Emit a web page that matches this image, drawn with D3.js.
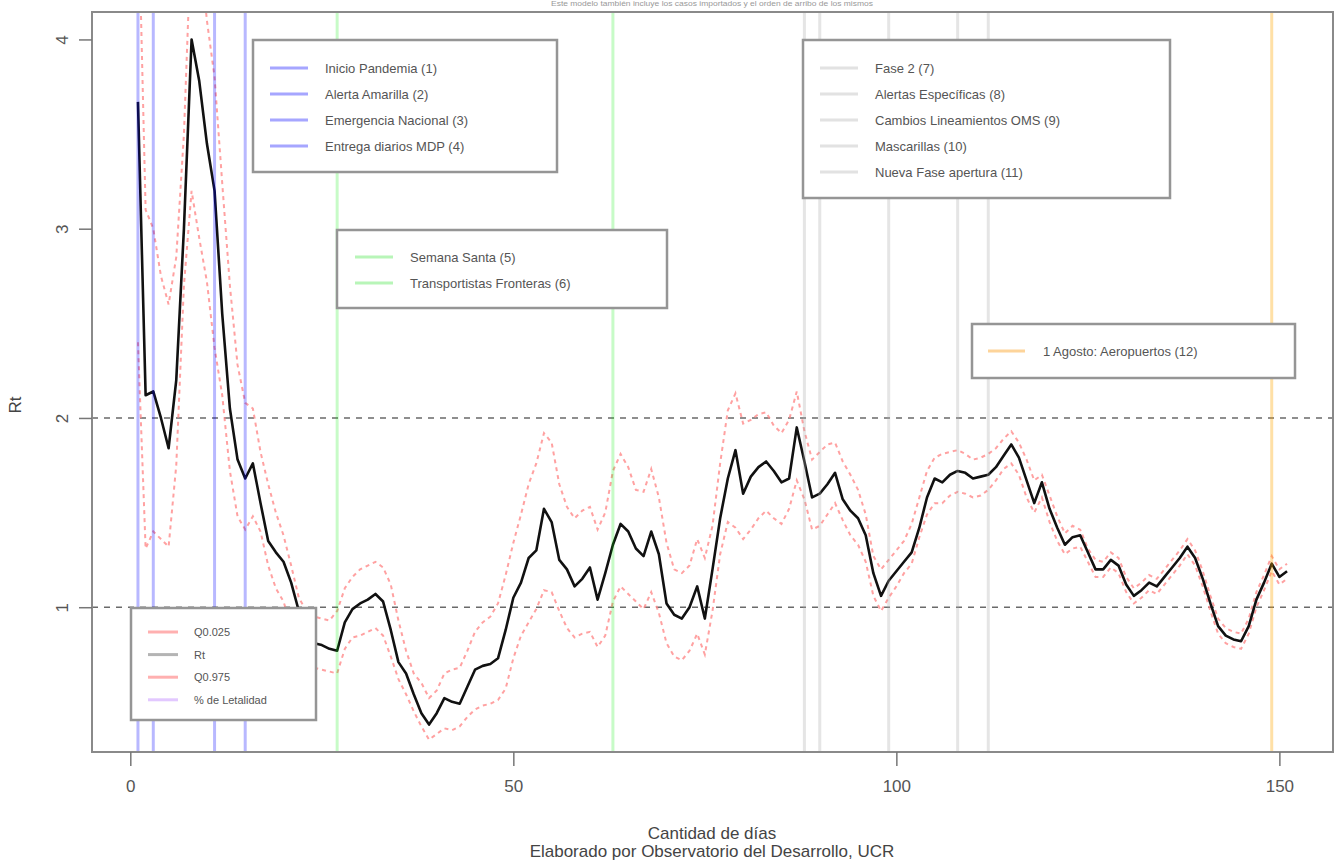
<!DOCTYPE html>
<html>
<head>
<meta charset="utf-8">
<script src="https://cdn.jsdelivr.net/npm/d3@7"></script>
<style>
body { margin: 0; background: #fff; }
text { font-family: "Liberation Sans", Arial, sans-serif; }
</style>
</head>
<body>
<div id="chart"></div>
<script>
// Rt estimado con intervalos

var rt = [3.67, 2.12, 2.14, 2.00, 1.84, 2.20, 3.00, 4.00, 3.78, 3.45,
  3.20, 2.55, 2.05, 1.78, 1.68, 1.76, 1.55, 1.35, 1.29, 1.24,
  1.13, 0.98, 0.85, 0.81, 0.80, 0.78, 0.77, 0.92, 0.99, 1.02,
  1.04, 1.07, 1.03, 0.88, 0.71, 0.65, 0.54, 0.44, 0.38, 0.44,
  0.52, 0.50, 0.49, 0.58, 0.67, 0.69, 0.70, 0.73, 0.88, 1.05,
  1.13, 1.26, 1.30, 1.52, 1.45, 1.25, 1.20, 1.11, 1.15, 1.21,
  1.04, 1.18, 1.33, 1.44, 1.40, 1.31, 1.27, 1.40, 1.28, 1.02,
  0.96, 0.94, 1.00, 1.11, 0.94, 1.20, 1.47, 1.68, 1.83, 1.60,
  1.69, 1.74, 1.77, 1.72, 1.66, 1.68, 1.95, 1.77, 1.58, 1.60,
  1.65, 1.71, 1.57, 1.51, 1.47, 1.38, 1.18, 1.06, 1.14, 1.19,
  1.24, 1.29, 1.42, 1.58, 1.68, 1.66, 1.70, 1.72, 1.71, 1.68,
  1.69, 1.70, 1.74, 1.80, 1.86, 1.79, 1.67, 1.55, 1.66, 1.52,
  1.42, 1.33, 1.37, 1.38, 1.29, 1.20, 1.20, 1.25, 1.22, 1.12,
  1.06, 1.09, 1.13, 1.11, 1.16, 1.21, 1.26, 1.32, 1.26, 1.15,
  1.02, 0.90, 0.85, 0.83, 0.82, 0.90, 1.04, 1.13, 1.23, 1.16,
  1.19];

var q975 = [4.80, 3.10, 3.00, 2.75, 2.60, 2.85, 3.50, 4.60, 4.50, 4.10,
  3.80, 3.24, 2.70, 2.28, 2.08, 2.05, 1.82, 1.65, 1.50, 1.38,
  1.22, 1.05, 0.98, 0.95, 0.94, 0.93, 0.98, 1.10, 1.16, 1.20,
  1.22, 1.24, 1.21, 1.12, 0.93, 0.77, 0.65, 0.60, 0.52, 0.56,
  0.65, 0.67, 0.68, 0.77, 0.87, 0.92, 0.95, 1.02, 1.17, 1.34,
  1.49, 1.65, 1.76, 1.92, 1.87, 1.65, 1.53, 1.47, 1.51, 1.53,
  1.41, 1.50, 1.72, 1.81, 1.74, 1.62, 1.61, 1.73, 1.58, 1.34,
  1.20, 1.18, 1.22, 1.36, 1.26, 1.43, 1.76, 2.04, 2.13, 1.97,
  1.99, 2.02, 2.03, 1.96, 1.92, 1.99, 2.14, 1.93, 1.78, 1.82,
  1.86, 1.87, 1.77, 1.70, 1.62, 1.49, 1.27, 1.20, 1.25, 1.30,
  1.35, 1.44, 1.58, 1.72, 1.79, 1.81, 1.82, 1.83, 1.81, 1.78,
  1.79, 1.81, 1.84, 1.89, 1.93, 1.87, 1.78, 1.67, 1.70, 1.59,
  1.48, 1.39, 1.43, 1.41, 1.31, 1.25, 1.24, 1.29, 1.26, 1.16,
  1.10, 1.13, 1.17, 1.15, 1.20, 1.25, 1.30, 1.36, 1.30, 1.19,
  1.06, 0.94, 0.89, 0.87, 0.86, 0.94, 1.08, 1.17, 1.27, 1.20,
  1.23];

var q025 = [2.40, 1.31, 1.40, 1.36, 1.32, 1.75, 2.70, 3.20, 2.95, 2.72,
  2.37, 2.12, 1.72, 1.48, 1.41, 1.48, 1.40, 1.22, 1.10, 1.03,
  0.90, 0.80, 0.72, 0.68, 0.67, 0.66, 0.65, 0.78, 0.84, 0.85,
  0.87, 0.89, 0.85, 0.74, 0.62, 0.54, 0.45, 0.37, 0.30, 0.33,
  0.36, 0.35, 0.37, 0.42, 0.46, 0.48, 0.49, 0.51, 0.57, 0.73,
  0.85, 0.92, 0.99, 1.09, 1.08, 0.98, 0.89, 0.84, 0.86, 0.87,
  0.79, 0.85, 1.03, 1.11, 1.07, 1.03, 0.99, 1.08, 0.97, 0.81,
  0.74, 0.72, 0.77, 0.86, 0.75, 0.98, 1.28, 1.45, 1.42, 1.36,
  1.41, 1.47, 1.51, 1.47, 1.44, 1.52, 1.67, 1.57, 1.41, 1.43,
  1.49, 1.55, 1.46, 1.38, 1.33, 1.24, 1.06, 0.98, 1.05, 1.11,
  1.18, 1.23, 1.37, 1.49, 1.55, 1.55, 1.59, 1.61, 1.60, 1.58,
  1.59, 1.62, 1.67, 1.73, 1.76, 1.70, 1.58, 1.50, 1.58, 1.45,
  1.35, 1.28, 1.31, 1.32, 1.24, 1.16, 1.16, 1.21, 1.18, 1.08,
  1.02, 1.05, 1.09, 1.07, 1.12, 1.17, 1.22, 1.28, 1.22, 1.11,
  0.98, 0.86, 0.81, 0.79, 0.78, 0.86, 1.00, 1.09, 1.19, 1.12,
  1.15];

var days = d3.range(1, rt.length + 1);

var blueDays = [1, 3, 11, 15];
var greenDays = [27, 63];
var grayDays = [88, 90, 99, 108, 112];
var orangeDays = [149];

var blueLabels = ["Inicio Pandemia (1)", "Alerta Amarilla (2)", "Emergencia Nacional (3)", "Entrega diarios MDP (4)"];
var greenLabels = ["Semana Santa (5)", "Transportistas Fronteras (6)"];
var grayLabels = ["Fase 2 (7)", "Alertas Específicas (8)", "Cambios Lineamientos OMS (9)", "Mascarillas (10)", "Nueva Fase apertura (11)"];
var orangeLabels = ["1 Agosto: Aeropuertos (12)"];
var seriesLabels = ["Q0.025", "Rt", "Q0.975", "% de Letalidad"];

var xTicks = [0, 50, 100, 150];
var yTicks = [1, 2, 3, 4];
var refLines = [1, 2];

var svgWidth = 1334,
  svgHeight = 861;

var box = {left: 92, right: 1333, top: 12, bottom: 752};

var svg = d3.select("#chart")
  .append("svg")
  .attr("width", svgWidth)
  .attr("height", svgHeight);

var xScale = d3.scaleLinear()
  .domain([-5, 157])
  .range([box.left, box.right]);

var yScale = d3.scaleLinear()
  .domain([0.235, 4.145])
  .range([box.bottom, box.top]);

svg.append("defs").append("clipPath")
  .attr("id", "plotclip")
  .append("rect")
  .attr("x", box.left)
  .attr("y", box.top)
  .attr("width", box.right - box.left)
  .attr("height", box.bottom - box.top);

var plot = svg.append("g")
  .attr("clip-path", "url(#plotclip)");

plot.selectAll(".ref")
  .data(refLines)
  .enter()
  .append("line")
  .attr("x1", box.left)
  .attr("x2", box.right)
  .attr("y1", d => yScale(d))
  .attr("y2", d => yScale(d))
  .attr("stroke", "#6a6a6a")
  .attr("stroke-width", 1.6)
  .attr("stroke-dasharray", "6,6");

var line = d3.line()
  .x((d, i) => xScale(days[i]))
  .y(d => yScale(d));

[q025, q975].forEach(function(s) {
  plot.append("path")
    .datum(s)
    .attr("d", line)
    .attr("fill", "none")
    .attr("stroke", "#ff8a8a")
    .attr("stroke-width", 2)
    .attr("stroke-dasharray", "4,4")
    .attr("opacity", 0.8);
});

plot.append("path")
  .datum(rt)
  .attr("d", line)
  .attr("fill", "none")
  .attr("stroke", "#111")
  .attr("stroke-width", 2.6)
  .attr("stroke-linejoin", "round");

var events = [
  [blueDays, "#0000ff", 0.28],
  [greenDays, "#00ee00", 0.22],
  [grayDays, "#a8a8a8", 0.3],
  [orangeDays, "#ffa500", 0.35]
];

events.forEach(function(ev) {
  plot.selectAll(null)
    .data(ev[0])
    .enter()
    .append("line")
    .attr("x1", d => xScale(d))
    .attr("x2", d => xScale(d))
    .attr("y1", box.top)
    .attr("y2", box.bottom)
    .attr("stroke", ev[1])
    .attr("stroke-opacity", ev[2])
    .attr("stroke-width", 3);
});

svg.append("rect")
  .attr("x", box.left)
  .attr("y", box.top)
  .attr("width", box.right - box.left)
  .attr("height", box.bottom - box.top)
  .attr("fill", "none")
  .attr("stroke", "#8a8a8a")
  .attr("stroke-width", 2);

var xAxis = d3.axisBottom(xScale)
  .tickValues(xTicks)
  .tickFormat(d3.format("d"))
  .tickSize(14)
  .tickPadding(14);

var xg = svg.append("g")
  .attr("transform", `translate(0, ${box.bottom})`)
  .call(xAxis);
xg.select(".domain").remove();
xg.selectAll("line").attr("stroke", "#777").attr("stroke-width", 1.5);
xg.selectAll("text")
  .attr("font-size", "17px")
  .attr("font-family", "Liberation Sans, Arial, sans-serif")
  .attr("fill", "#555");

var yAxis = d3.axisLeft(yScale)
  .tickValues(yTicks)
  .tickFormat(d3.format("d"))
  .tickSize(13);

var yg = svg.append("g")
  .attr("transform", `translate(${box.left}, 0)`)
  .call(yAxis);
yg.select(".domain").remove();
yg.selectAll("line").attr("stroke", "#777").attr("stroke-width", 1.5);
yg.selectAll("text")
  .attr("x", 0)
  .attr("y", -24)
  .attr("dy", 0)
  .attr("transform", "rotate(-90)")
  .style("text-anchor", "middle")
  .attr("font-size", "17px")
  .attr("font-family", "Liberation Sans, Arial, sans-serif")
  .attr("fill", "#555");

function legend(x0, y0, w, h, labels, colors, rowY, step, lineX, textX, fontSize) {
  var g = svg.append("g");
  g.append("rect")
    .attr("x", x0)
    .attr("y", y0)
    .attr("width", w)
    .attr("height", h)
    .attr("fill", "#fff")
    .attr("stroke", "#959595")
    .attr("stroke-width", 2.5);
  labels.forEach(function(lab, i) {
    var yy = rowY + i * step;
    g.append("line")
      .attr("x1", lineX[0])
      .attr("x2", lineX[1])
      .attr("y1", yy)
      .attr("y2", yy)
      .attr("stroke", colors[i % colors.length])
      .attr("stroke-width", 3);
    g.append("text")
      .attr("x", textX)
      .attr("y", yy)
      .attr("dy", "0.36em")
      .attr("font-size", fontSize)
      .attr("fill", "#555")
      .text(lab);
  });
}

legend(253, 40, 304, 132, blueLabels, ["#a6a6ff"], 68, 26, [270, 308], 325, "13px");
legend(803, 40, 367, 158, grayLabels, ["#e2e2e2"], 68, 26, [820, 858], 875, "13px");
legend(337, 230, 330, 78, greenLabels, ["#b8f5b8"], 257, 26, [355, 393], 410, "13px");
legend(972, 324, 323, 54, orangeLabels, ["#fdd49a"], 351, 26, [988, 1025], 1043, "13px");
legend(131, 608, 185, 112, seriesLabels, ["#ffb0b0", "#b4b4b4", "#ffb0b0", "#e2c8ff"], 632, 22.6, [148, 178], 194, "11px");

svg.append("text")
  .attr("x", 712)
  .attr("y", 6)
  .attr("text-anchor", "middle")
  .attr("font-size", "7px")
  .attr("fill", "#999")
  .attr("textLength", 322)
  .attr("lengthAdjust", "spacingAndGlyphs")
  .text("Este modelo también incluye los casos importados y el orden de arribo de los mismos");

svg.append("text")
  .attr("x", 712)
  .attr("y", 839)
  .attr("text-anchor", "middle")
  .attr("font-size", "17px")
  .attr("fill", "#444")
  .text("Cantidad de días");

svg.append("text")
  .attr("x", 712)
  .attr("y", 857)
  .attr("text-anchor", "middle")
  .attr("font-size", "17px")
  .attr("fill", "#444")
  .text("Elaborado por Observatorio del Desarrollo, UCR");

svg.append("text")
  .attr("transform", "translate(21, 405) rotate(-90)")
  .attr("text-anchor", "middle")
  .attr("font-size", "17px")
  .attr("fill", "#444")
  .text("Rt");
</script>
</body>
</html>
